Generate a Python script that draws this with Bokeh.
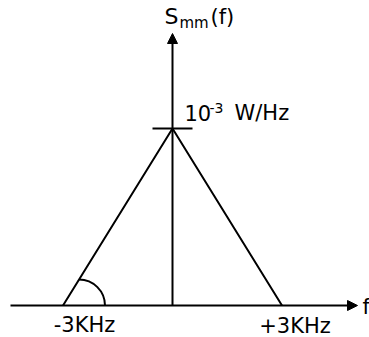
from math import pi
from bokeh.plotting import figure
from bokeh.models import Range1d, Arrow, NormalHead
from bokeh.core.properties import value
from bokeh.embed import file_html
from bokeh.resources import INLINE

# ---- data -------------------------------------------------------------
freq_khz = [-3.0, 0.0, 3.0]          # triangle vertices (kHz)
psd_units = [0.0, 1.0, 0.0]          # PSD in units of 1e-3 W/Hz
x_tick_labels = ["-3KHz", "+3KHz"]
peak_base = "10"
peak_exp = "-3"
peak_unit = "W/Hz"
y_label_main = "S"
y_label_sub = "mm"
y_label_arg = "(f)"
x_label = "f"

# ---- layout -----------------------------------------------------------
W, H = 369, 337
PX_X = 36.5     # pixels per kHz
PX_Y = 177.0    # pixels per 1e-3 W/Hz
ORIGIN_X = 172  # canvas px of f = 0
ORIGIN_Y = 305  # canvas px of S = 0 (from top)

x0 = -ORIGIN_X / PX_X
x1 = (W - ORIGIN_X) / PX_X
y0 = -(H - ORIGIN_Y) / PX_Y
y1 = ORIGIN_Y / PX_Y

p = figure(width=W, height=H, x_range=Range1d(x0, x1), y_range=Range1d(y0, y1),
           output_backend="svg", toolbar_location=None,
           x_axis_type=None, y_axis_type=None, min_border=0)
p.grid.visible = False
p.outline_line_color = None
p.background_fill_color = "white"
p.border_fill_color = "white"

BLACK = "#000000"
LW = 2
FONT = value("DejaVu Sans")

# axes with arrows
h_start = -162 / PX_X
h_end = 185 / PX_X
v_end = 272 / PX_Y
p.add_layout(Arrow(end=NormalHead(size=10, fill_color=BLACK, line_color=BLACK, line_width=1),
                   x_start=h_start, y_start=0, x_end=h_end, y_end=0,
                   line_color=BLACK, line_width=LW))
p.add_layout(Arrow(end=NormalHead(size=10, fill_color=BLACK, line_color=BLACK, line_width=1),
                   x_start=0, y_start=0, x_end=0, y_end=v_end,
                   line_color=BLACK, line_width=LW))

# triangle
p.line(freq_khz, psd_units, line_color=BLACK, line_width=LW)

# peak tick
half = 20 / PX_X
p.segment(x0=[freq_khz[1] - half], y0=[psd_units[1]], x1=[freq_khz[1] + half], y1=[psd_units[1]],
          line_color=BLACK, line_width=LW)

# angle arc at left vertex
arc_cx = freq_khz[0] + 16 / PX_X
p.arc(x=[arc_cx], y=[psd_units[0]], radius=26, radius_units="screen",
      start_angle=0, end_angle=pi / 2, direction="anticlock",
      line_color=BLACK, line_width=LW)


def label(x, y, txt, dx, dy, size, align="left"):
    p.text(x=[x], y=[y], text=[txt], x_offset=dx, y_offset=dy,
           text_align=align, text_baseline="alphabetic", text_font=FONT,
           text_font_size=size, text_color=BLACK)


# tick labels
label(freq_khz[0], 0, x_tick_labels[0], 21.5, 19, "21px", "center")
label(freq_khz[2], 0, x_tick_labels[1], 13, 20, "21px", "center")

# peak label
px, py = freq_khz[1], psd_units[1]
label(px, py, peak_base, 12, -16, "21px")
label(px, py, peak_exp, 37, -21, "14px")
label(px, py, peak_unit, 62, -16, "21px")

# y label S_mm(f)
label(0, v_end, y_label_main, -8, -17, "22px")
label(0, v_end, y_label_sub, 7, -11, "15px")
label(0, v_end, y_label_arg, 38, -17, "21px")

# x label "f" at the end of the horizontal arrow
label(h_end, 0, x_label, 5, 1, "21px")

open("out.html", "w").write(file_html(p, INLINE))
